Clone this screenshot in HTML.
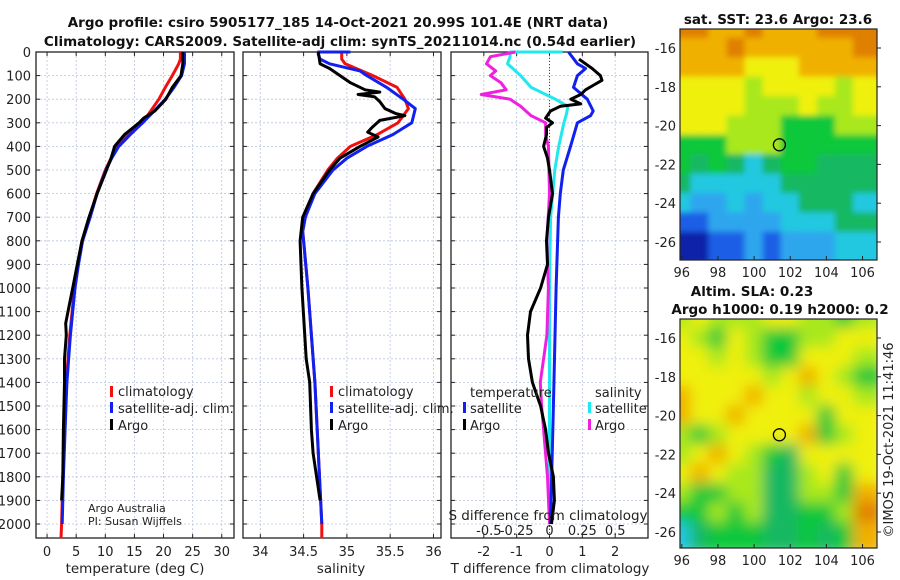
<!DOCTYPE html>
<html><head><meta charset="utf-8"><style>
body{margin:0;background:#fff;}
svg{display:block;font-family:"DejaVu Sans","Liberation Sans",sans-serif;}
</style></head><body>
<svg id="fig" width="900" height="580" viewBox="0 0 900 580" xmlns="http://www.w3.org/2000/svg">
<g id="titles" font-weight="bold" font-size="13.5" text-anchor="middle" fill="#111">
<text x="338" y="27">Argo profile: csiro 5905177_185 14-Oct-2021 20.99S 101.4E (NRT data)</text>
<text x="340" y="46">Climatology: CARS2009. Satellite-adj clim: synTS_20211014.nc (0.54d earlier)</text>
<text x="778" y="24">sat. SST: 23.6 Argo: 23.6</text>
<text x="752" y="296">Altim. SLA: 0.23</text>
<text x="780" y="314">Argo h1000: 0.19 h2000: 0.2</text>
</g>
<text x="0" y="0" transform="translate(893,440) rotate(-90)" text-anchor="middle" font-size="13" fill="#222">©IMOS 19-Oct-2021 11:41:46</text>
</svg>
<script>
const depthTicks = [0,100,200,300,400,500,600,700,800,900,1000,1100,1200,1300,1400,1500,1600,1700,1800,1900,2000];
// temperature profiles
const tClimD = [0,30,50,100,150,200,250,300,350,400,450,500,600,700,800,900,1000,1200,1400,1600,1800,2000,2060];
const tClimV = [22.9,22.9,22.6,21.5,20.3,19.2,17.8,16.4,14.0,12.1,11.0,10.0,8.5,7.3,6.0,5.3,4.7,3.9,3.3,3.0,2.7,2.5,2.4];
const tSatD = [0,50,100,150,200,250,300,350,400,450,500,600,700,800,900,1000,1200,1400,1600,1800,2000];
const tSatV = [23.6,23.6,23.1,21.8,20.3,18.4,16.4,14.3,12.3,11.1,10.1,8.6,7.4,6.1,5.4,4.8,4.0,3.4,3.1,2.8,2.6];
const tArgoD = [0,50,100,150,200,250,280,300,350,400,450,500,600,700,800,900,1000,1100,1150,1200,1300,1400,1600,1800,1900];
const tArgoV = [23.3,23.3,23.0,21.5,20.4,18.5,16.6,15.8,13.3,11.6,11.0,10.2,8.6,7.2,6.0,5.2,4.4,3.6,3.2,3.3,3.0,3.0,2.8,2.7,2.5];
// salinity profiles
const sClimD = [0,30,50,100,150,200,240,300,350,400,450,500,600,700,760,800,1000,1400,2000,2060];
const sClimV = [34.94,34.94,34.98,35.30,35.58,35.67,35.71,35.59,35.35,35.04,34.89,34.78,34.61,34.52,34.49,34.50,34.55,34.63,34.71,34.71];
const sSatD = [0,0,10,30,50,80,100,150,200,240,300,350,400,450,500,600,700,760,800,1000,1400,2000];
const sSatV = [35.04,34.67,34.67,34.69,34.80,35.15,35.23,35.46,35.65,35.79,35.75,35.53,35.23,35.0,34.84,34.63,34.52,34.49,34.50,34.55,34.63,34.71];
const sArgoD = [0,50,70,100,130,160,170,180,190,210,240,260,270,290,320,340,360,400,450,500,600,700,800,1000,1300,1400,1600,1700,1800,1900];
const sArgoV = [34.67,34.69,34.80,34.92,35.04,35.21,35.38,35.13,35.32,35.38,35.44,35.56,35.67,35.38,35.29,35.24,35.36,35.15,34.92,34.80,34.61,34.49,34.46,34.48,34.53,34.57,34.59,34.61,34.65,34.69];
// differences from climatology
const dTSatD = [0,50,70,100,150,200,250,270,300,400,500,600,700,1000,1500,2000];
const dTSatV = [0.58,0.85,1.1,0.85,0.73,1.15,1.33,1.25,0.85,0.64,0.42,0.33,0.27,0.2,0.12,0.03];
const dTArgoD = [30,50,70,100,120,140,160,180,200,220,230,250,280,300,320,350,400,450,500,600,700,800,900,1000,1100,1200,1300,1400,1500,1600,1700,1800,1900,2000];
const dTArgoV = [0.9,1.1,1.3,1.55,1.6,1.35,1.1,0.95,0.65,0.95,0.33,0.03,-0.12,0.09,-0.09,-0.09,-0.18,-0.06,0,0.09,-0.03,-0.09,-0.06,-0.27,-0.58,-0.67,-0.64,-0.52,-0.27,-0.12,-0.03,0.12,0.15,0.06];
const dSSatD = [0,0,20,50,100,150,200,230,260,300,400,500,700,1000,1500,2000];
const dSSatV = [0.1,-0.3,-0.3,-0.32,-0.22,-0.14,0.045,0.14,0.13,0.11,0.07,0.04,0.008,0,0,0];
const dSArgoD = [0,20,50,80,100,130,160,180,200,230,270,300,350,400,600,800,1000,1200,1400,1500,1600,1800,2000];
const dSArgoV = [-0.26,-0.45,-0.48,-0.41,-0.45,-0.37,-0.33,-0.52,-0.3,-0.22,-0.14,-0.03,-0.03,-0.008,0,-0.02,-0.008,-0.02,-0.07,-0.06,-0.045,-0.015,0];
const tTicks = [0,5,10,15,20,25,30];
const sTicks = [34,34.5,35,35.5,36];
const dTicks = [-2,-1,0,1,2];
const dSTickLabels = ["-0.5","-0.25","0","0.25","0.5"];
const dSTickVals = [-0.5,-0.25,0,0.25,0.5];
const sstGrid = [
[9,9,8,8,9,8,8,8,9,9,9],[8,8,8,9,8,8,8,8,8,8,9],[8,8,8,8,7,7,7,8,8,8,8],[7,7,7,7,6,7,7,7,7,6,7],
[7,7,7,7,6,6,6,7,6,6,7],[7,7,7,6,6,6,5,5,5,6,6],[5,5,5,6,6,6,5,5,5,5,5],[5,4,5,4,3,4,5,5,4,4,4],
[4,3,3,3,3,3,4,4,4,4,4],[3,2,2,3,2,3,3,4,4,4,3],[1,1,2,2,2,2,3,3,3,4,4],[0,0,1,1,2,1,2,2,2,3,3]];
const slaGrid = [
[6,7,6,6,6,7,7,6,6,5,6],[7,6,5,7,6,5,5,6,6,7,7],[7,7,6,7,6,5,5,7,7,7,6],[7,7,7,7,7,6,7,8,7,6,5],
[8,7,7,7,8,7,7,6,7,7,6],[8,7,7,8,7,7,7,7,5,7,7],[6,5,6,7,7,7,7,8,5,6,7],[6,7,8,7,6,5,4,7,7,7,7],
[7,8,7,6,6,4,4,6,7,5,7],[6,5,5,6,6,4,4,6,6,5,8],[5,5,6,5,6,4,4,5,5,6,9],[3,4,5,5,5,4,4,5,4,5,8]];
const palette = ["#0a22a8","#1f5ee6","#2ea6ee","#24c8e0","#14b862","#10c83a","#a8e81c","#f0f010","#f0b000","#e08000"];
const lonTicks = [96,98,100,102,104,106];
const latTicks = [-16,-18,-20,-22,-24,-26];
const argoLon = 101.4, argoLat = -20.99;

const NS="http://www.w3.org/2000/svg";
const svg=document.getElementById('fig');
function mk(tag,attrs,parent){const e=document.createElementNS(NS,tag);for(const k in attrs)e.setAttribute(k,attrs[k]);(parent||svg).appendChild(e);return e;}
const TOP=52, BOT=538;
const yD=d=>TOP+d*0.236;
function panel(name,x0,x1,xmin,xmax,ticks,tickLabels,showY){
  const g=mk('g',{});
  
  
  const xs=v=>x0+(v-xmin)/(xmax-xmin)*(x1-x0);
  ticks.forEach((t,i)=>{const gl=mk('line',{x1:xs(t),x2:xs(t),y1:TOP,y2:BOT,stroke:'#b8c4e0','stroke-width':0.8,'stroke-dasharray':'2,2'},g);
    
    const tl=mk('text',{x:xs(t),y:556,'text-anchor':'middle','font-size':13,fill:'#222'},g);tl.textContent=tickLabels[i];
    
    mk('line',{x1:xs(t),x2:xs(t),y1:BOT,y2:BOT-4,stroke:'#222'},g);mk('line',{x1:xs(t),x2:xs(t),y1:TOP,y2:TOP+4,stroke:'#222'},g);});
  depthTicks.forEach(d=>{mk('line',{x1:x0,x2:x1,y1:yD(d),y2:yD(d),stroke:'#b8c4e0','stroke-width':0.8,'stroke-dasharray':'2,2'},g);
    mk('line',{x1:x0,x2:x0+4,y1:yD(d),y2:yD(d),stroke:'#222'},g);mk('line',{x1:x1,x2:x1-4,y1:yD(d),y2:yD(d),stroke:'#222'},g);
    if(showY){const t=mk('text',{x:31,y:yD(d)+5,'text-anchor':'end','font-size':13,fill:'#222'},g);t.textContent=d;
      }});
  const f=mk('rect',{x:x0,y:TOP,width:x1-x0,height:BOT-TOP,fill:'none',stroke:'#222','stroke-width':1.3},g);
  
  return {g,xs};
}
function line(p,D,V,color,name,scale){
  const pts=D.map((d,i)=>p.xs(V[i]*(scale||1)).toFixed(1)+','+yD(d).toFixed(1)).join(' ');
  const l=mk('polyline',{points:pts,fill:'none',stroke:color,'stroke-width':3,'stroke-linejoin':'round'},p.g);
  
}
function txt(x,y,s,name,size,anchor){const t=mk('text',{x:x,y:y,'font-size':size||13,fill:'#222','text-anchor':anchor||'start'});t.textContent=s;
  return t;}
function legendBar(x,y,c){const r=mk('rect',{x:x,y:y-11,width:3,height:11,fill:c});}

const p1=panel('temperature-panel',36,234,-1.9,32.1,tTicks,tTicks.map(String),true);
line(p1,tClimD,tClimV,'#f01010','temp-climatology-line');
line(p1,tSatD,tSatV,'#1020f0','temp-satellite-line');
line(p1,tArgoD,tArgoV,'#000','temp-argo-line');
txt(135,573,'temperature (deg C)','temperature-axis-title',13.5,'middle');
legendBar(110,397,'#f01010');txt(118,396,'climatology','legend-climatology');
legendBar(110,413,'#1020f0');txt(118,413,'satellite-adj. clim.','legend-satellite-adj');
legendBar(110,430,'#000');txt(118,430,'Argo','legend-argo');
txt(88,512,'Argo Australia','credit-argo-australia',11);
txt(88,525,'PI: Susan Wijffels','credit-pi',11);

const p2=panel('salinity-panel',243,441,33.80,36.087,sTicks,["34","34.5","35","35.5","36"],false);
line(p2,sClimD,sClimV,'#f01010','sal-climatology-line');
line(p2,sSatD,sSatV,'#1020f0','sal-satellite-line');
line(p2,sArgoD,sArgoV,'#000','sal-argo-line');
txt(341,573,'salinity','salinity-axis-title',13.5,'middle');
legendBar(330,397,'#f01010');txt(338,396,'climatology','legend2-climatology');
legendBar(330,413,'#1020f0');txt(338,413,'satellite-adj. clim.','legend2-satellite-adj');
legendBar(330,430,'#000');txt(338,430,'Argo','legend2-argo');

const p3=panel('difference-panel',451,648,-3,3,dTicks,dTicks.map(String),false);
const z=mk('line',{x1:p3.xs(0),x2:p3.xs(0),y1:TOP,y2:BOT,stroke:'#444','stroke-dasharray':'1,2'},p3.g);

line(p3,dSSatD,dSSatV,'#20e8f0','sal-diff-satellite-line',4);
line(p3,dSArgoD,dSArgoV,'#f020e0','sal-diff-argo-line',4);
line(p3,dTSatD,dTSatV,'#1020f0','temp-diff-satellite-line');
line(p3,dTArgoD,dTArgoV,'#000','temp-diff-argo-line');
txt(550,573,'T difference from climatology','t-diff-axis-title',13.5,'middle');
txt(548,520,'S difference from climatology','s-diff-axis-title',13.5,'middle');
dSTickVals.forEach((v,i)=>txt(p3.xs(v*4)+(i===0?5:0),535,dSTickLabels[i],'s-diff-tick-label',13,'middle'));
txt(470,397,'temperature','legend3-temperature-header');
txt(595,397,'salinity','legend3-salinity-header');
legendBar(463,413,'#1020f0');txt(470,413,'satellite','legend3-temp-satellite');
legendBar(463,430,'#000');txt(470,430,'Argo','legend3-temp-argo');
legendBar(588,413,'#20e8f0');txt(595,413,'satellite','legend3-sal-satellite');
legendBar(588,430,'#f020e0');txt(595,430,'Argo','legend3-sal-argo');

const defs=mk('defs',{});
const flt=mk('filter',{id:'blur',x:'-10%',y:'-10%',width:'120%',height:'120%'},defs);
mk('feGaussianBlur',{stdDeviation:7},flt);
const flt2=mk('filter',{id:'blur2',x:'-10%',y:'-10%',width:'120%',height:'120%'},defs);
mk('feGaussianBlur',{stdDeviation:3},flt2);
function map(name,grid,y0,y1,lat16,lat26,filt){
  const x0=680,x1=877, lonMin=95.9, lonMax=106.8;
  const xs=l=>x0+(l-lonMin)/(lonMax-lonMin)*(x1-x0);
  const ys=la=>lat16+(la+16)/(-10)*(lat26-lat16);
  const g=mk('g',{});
  const clip=mk('clipPath',{id:name+'-clip'},defs);mk('rect',{x:x0,y:y0,width:x1-x0,height:y1-y0},clip);
  const cells=mk('g',{'clip-path':'url(#'+name+'-clip)'},g);
  const inner=mk('g',{filter:'url(#'+filt+')'},cells);
  grid.forEach((row,r)=>row.forEach((v,c)=>{
    const la=-15-r, lo=96+c;
    const xa=xs(lo-0.5)-0.5, ya=ys(la+0.5)-0.5;
    const w=xs(1)-xs(0)+1.5, h=ys(-1)-ys(0)+1.5;
    // extend edge cells so blur doesn't fade at borders
    const ex=(c===0?-12:0), ey=(r===0?-12:0);
    const ew=(c===row.length-1?12:0)-ex, eh=(r===grid.length-1?12:0)-ey;
    const cell=mk('rect',{x:xa+ex,y:ya+ey,width:w+ew,height:h+eh,fill:palette[v]},inner);
    }));
  mk('rect',{x:x0,y:y0,width:x1-x0,height:y1-y0,fill:'none',stroke:'#222','stroke-width':1.2},g);
  lonTicks.forEach(l=>{mk('line',{x1:xs(l),x2:xs(l),y1:y1,y2:y1-4,stroke:'#222'},g);
    const t=mk('text',{x:xs(l),y:y1+17,'text-anchor':'middle','font-size':13,fill:'#222'},g);t.textContent=l;
    });
  latTicks.forEach(la=>{mk('line',{x1:x1,x2:x1+4,y1:ys(la),y2:ys(la),stroke:'#222'},g);
    const t=mk('text',{x:676,y:ys(la)+5,'text-anchor':'end','font-size':13,fill:'#222'},g);t.textContent=la;
    });
  const c=mk('circle',{cx:xs(argoLon),cy:ys(argoLat),r:6,fill:'none',stroke:'#000','stroke-width':1.3},g);
  
}
map('sst-map',sstGrid,29,260,48,242,'blur2');
map('sla-map',slaGrid,319,548,338,532,'blur');
</script>
</body></html>
